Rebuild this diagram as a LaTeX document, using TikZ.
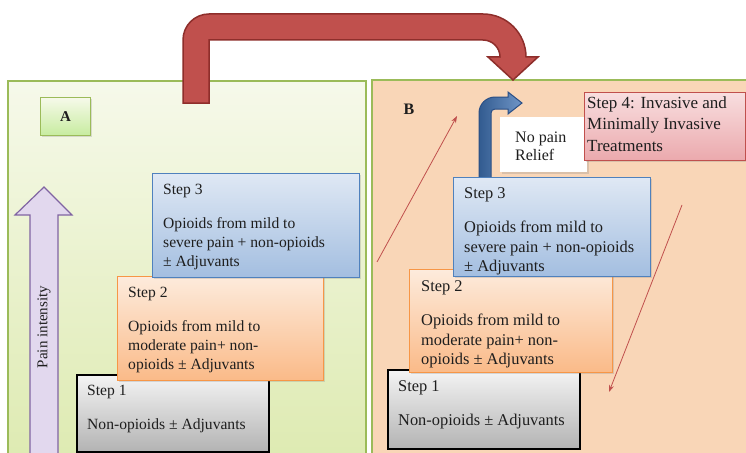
\documentclass[tikz,border=0pt]{standalone}
\usepackage{fontspec}
\setmainfont{Liberation Serif}
\usetikzlibrary{shadows,arrows.meta}
\definecolor{pgreen}{HTML}{9BBB59}
\definecolor{pgtop}{HTML}{F6F9EA}
\definecolor{pgbot}{HTML}{DDEAB0}
\definecolor{peach}{HTML}{F9D6B7}
\definecolor{bblue}{HTML}{4F81BD}
\definecolor{btop}{HTML}{DFE8F4}
\definecolor{bbot}{HTML}{A3BEE0}
\definecolor{oborder}{HTML}{F79646}
\definecolor{otop}{HTML}{FDEBDC}
\definecolor{obot}{HTML}{FABA88}
\definecolor{gtop}{HTML}{F4F4F4}
\definecolor{gbot}{HTML}{B3B3B3}
\definecolor{rborder}{HTML}{C0504D}
\definecolor{rtop}{HTML}{F8DEDF}
\definecolor{rbot}{HTML}{EBA9AD}
\definecolor{bigred}{HTML}{C0504D}
\definecolor{bigreddark}{HTML}{8E2E2B}
\definecolor{lav}{HTML}{E2D8EE}
\definecolor{lavb}{HTML}{8064A2}
\definecolor{arrblue}{HTML}{3F72B4}
\definecolor{arrbluedark}{HTML}{2A4F86}
\definecolor{txt}{HTML}{1E1E1E}
\tikzset{
  panel/.style={draw=pgreen, line width=1.6pt},
  boxshadow/.style={drop shadow={opacity=0.25, shadow xshift=1.5pt, shadow yshift=-1.5pt}},
  stepboxbase/.style={anchor=north west, inner sep=0pt, line width=1.3pt, boxshadow},
  bluebox/.style={stepboxbase, draw=bblue, top color=btop, bottom color=bbot},
  orangebox/.style={stepboxbase, draw=oborder, top color=otop, bottom color=obot},
  graybox/.style={stepboxbase, draw=black, line width=1.6pt, top color=gtop, bottom color=gbot},
  pinkbox/.style={stepboxbase, draw=rborder, top color=rtop, bottom color=rbot},
  textA/.style={anchor=north west, inner sep=0pt, align=left, text=txt, font=\fontsize{15.6}{19}\selectfont},
  textB/.style={anchor=north west, inner sep=0pt, align=left, text=txt, font=\fontsize{16.4}{19.5}\selectfont},
  thinred/.style={draw=rborder, line width=0.8pt, -{Stealth[length=7pt, width=5pt]}}
}
\begin{document}
\begin{tikzpicture}[x=1pt, y=-1pt]
\useasboundingbox (0,0) rectangle (746,452);
\clip (0,0) rectangle (746,452);
\fill[white] (0,0) rectangle (746,452);

% panels
\path[panel, top color=pgtop, bottom color=pgbot] (8,81) rectangle (366,470);
\path[panel, fill=peach] (372,80) rectangle (760,470);

% label A
\node[stepboxbase, draw=pgreen, line width=1.3pt, top color=pgtop, bottom color=pgbot!90!green, minimum width=50pt, minimum height=38pt] (boxA) at (40,97) {};
\node[font=\bfseries\fontsize{15}{18}\selectfont, text=txt] (labA) at (boxA.center) {A};

% label B
\node[font=\bfseries\fontsize{16}{19}\selectfont, text=txt] (labB) at (409,109) {B};

% pain intensity arrow
\path[draw=lavb, line width=1.2pt, fill=lav, line join=miter]
  (30,470) -- (30,215) -- (15,215) -- (44,187) -- (72,215) -- (58,215) -- (58,470) -- cycle;
\node[rotate=90, text=txt, font=\fontsize{15}{18}\selectfont] (pain) at (44,327) {Pain intensity};

% Step boxes, panel A
\node[graybox, minimum width=192pt, minimum height=77pt] (s1a) at (76,374) {};
\node[textA] (s1at) at ([shift={(11,11)}]s1a.north west) {Step 1\\[15pt]Non-opioids ± Adjuvants};
\node[orangebox, minimum width=206pt, minimum height=104pt] (s2a) at (117,276) {};
\node[textA] (s2at) at ([shift={(11,11)}]s2a.north west) {Step 2\\[15pt]Opioids from mild to\\moderate pain+ non-\\opioids ± Adjuvants};
\node[bluebox, minimum width=207pt, minimum height=104pt] (s3a) at (152,173) {};
\node[textA] (s3at) at ([shift={(11,11)}]s3a.north west) {Step 3\\[15pt]Opioids from mild to\\severe pain + non-opioids\\± Adjuvants};

% blue bent arrow (no pain relief)
\path[draw=arrbluedark, line width=1pt, left color=arrblue!80!black, right color=arrblue!75!white, line join=miter]
  (479,180) -- (479,113) .. controls (479,104.2) and (486.2,97) .. (495,97)
  -- (508,97) -- (508,92) -- (522,103) -- (508,114) -- (508,109) -- (495,109)
  .. controls (492.8,109) and (491,110.8) .. (491,113) -- (491,180) -- cycle;

% No pain relief box
\node[anchor=north west, inner sep=0pt, fill=white, minimum width=87pt, minimum height=55pt, boxshadow] (npr) at (500,117) {};
\node[anchor=north west, inner sep=0pt, align=left, text=txt, font=\fontsize{16}{18}\selectfont] (nprt) at (515,132) {No pain\\Relief};

% Step 4
\node[pinkbox, minimum width=161pt, minimum height=68pt] (s4) at (584,92) {};
\node[anchor=north west, inner sep=0pt, align=left, text=txt, font=\fontsize{17}{21.5}\selectfont] (s4t) at (587,96.5) {Step 4: Invasive and\\Minimally Invasive\\Treatments};

% Step boxes, panel B
\node[graybox, minimum width=192pt, minimum height=79pt] (s1b) at (387,369) {};
\node[textB] (s1bt) at ([shift={(11,11)}]s1b.north west) {Step 1\\[15pt]Non-opioids ± Adjuvants};
\node[orangebox, minimum width=203pt, minimum height=103pt] (s2b) at (409,269) {};
\node[textB] (s2bt) at ([shift={(12,11)}]s2b.north west) {Step 2\\[15pt]Opioids from mild to\\moderate pain+ non-\\opioids ± Adjuvants};
\node[bluebox, minimum width=197pt, minimum height=99pt] (s3b) at (453,177) {};
\node[textB] (s3bt) at ([shift={(11,10)}]s3b.north west) {Step 3\\[15pt]Opioids from mild to\\severe pain + non-opioids\\± Adjuvants};

% thin red arrows
\coordinate (up1) at (377,262);
\coordinate (up2) at (457,116);
\coordinate (dn1) at (682,205);
\coordinate (dn2) at (609,392);
\draw[thinred] (up1) -- (up2);
\draw[thinred] (dn1) -- (dn2);

% big red arrow from A to B
\path[draw=bigreddark, line width=1.5pt, fill=bigred, line join=miter]
  (183,103) -- (183,40) .. controls (183,25.6) and (194.6,14) .. (209,14)
  -- (483,14) .. controls (506.7,14) and (526,33.3) .. (526,57)
  -- (538,57) -- (513,80) -- (488,57) -- (500,57)
  .. controls (500,47.6) and (492.4,40) .. (483,40)
  -- (209,40) -- (209,103) -- cycle;
\end{tikzpicture}
\end{document}
